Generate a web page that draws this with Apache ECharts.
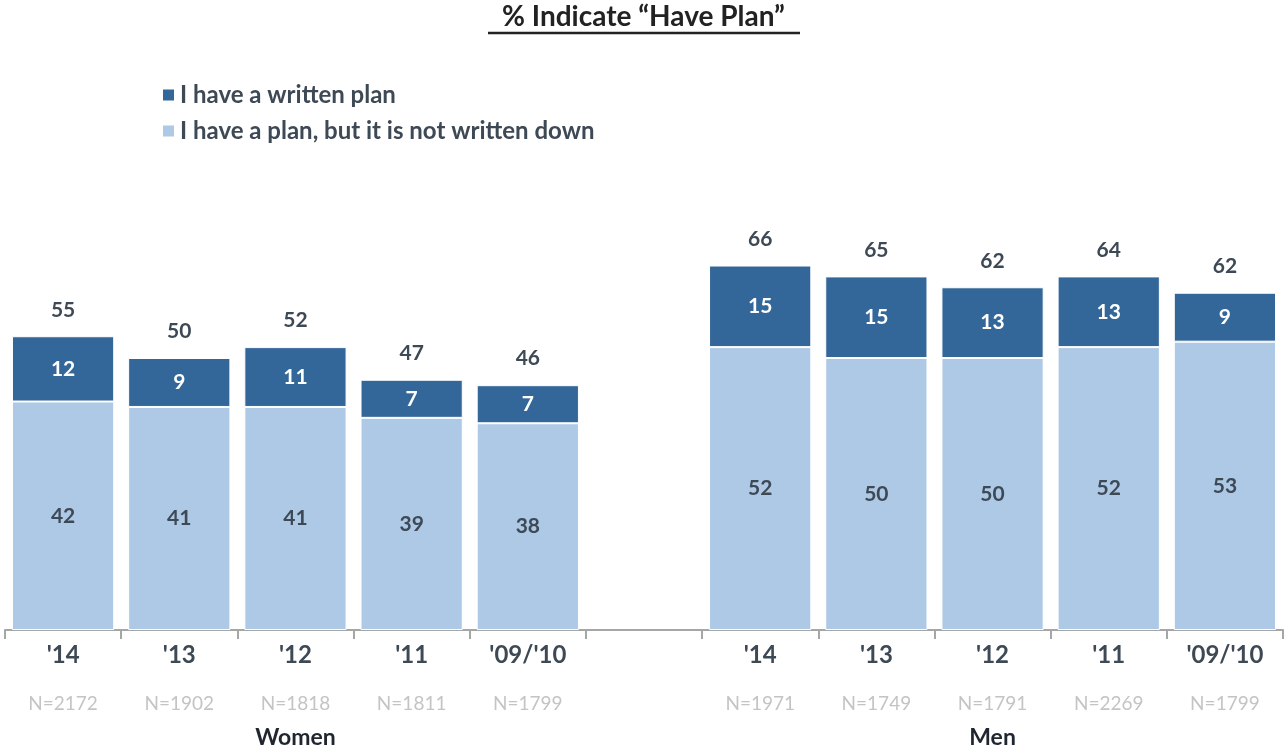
<!DOCTYPE html>
<html>
<head>
<meta charset="utf-8">
<script src="https://cdn.jsdelivr.net/npm/echarts@6/dist/echarts.min.js"></script>
<style>html,body{margin:0;padding:0;background:#fff}#c{width:1287px;height:751px}</style>
</head>
<body>
<div id="c"></div>
<script>
const years = ["'14","'13","'12","'11","'09/'10","","'14","'13","'12","'11","'09/'10"];
const sampleSizes = ["N=2172","N=1902","N=1818","N=1811","N=1799","","N=1971","N=1749","N=1791","N=2269","N=1799"];
const groups = ["","","Women","","","","","","Men","",""];
const notWritten = [42,41,41,39,38,'-',52,50,50,52,53];
const written = [12,9,11,7,7,'-',15,15,13,13,9];
const totals = [55,50,52,47,46,'',66,65,62,64,62];
const seriesNames = ['I have a written plan','I have a plan, but it is not written down'];

const FONT = 'Lato';
const DARK = '#336699';
const LIGHT = '#adc9e5';
const TXT = '#3e4956';

const chart = echarts.init(document.getElementById('c'));
chart.setOption({
  animation: false,
  textStyle: {fontFamily: FONT},
  graphic: [
    {type:'text', left:'center', top:3, style:{text:'% Indicate \u201cHave Plan\u201d', font:'bold 28px ' + FONT, fill:'#222'}},
    {type:'line', shape:{x1:488, y1:33, x2:800, y2:33}, style:{stroke:'#222', lineWidth:2.5}}
  ],
  legend: {
    orient:'vertical', left:156, top:78, itemWidth:13, itemHeight:13, itemGap:12,
    icon:'rect',
    data: seriesNames,
    textStyle:{fontFamily:FONT, fontWeight:'bold', fontSize:24, color:TXT}
  },
  grid: {left:5, right:4, top:86, bottom:121},
  xAxis: {
    type:'category', data: years.map((y,i)=>i),
    axisLine:{lineStyle:{color:'#a6a6a6', width:2}},
    axisTick:{show:true, length:9, lineStyle:{color:'#a6a6a6', width:2}},
    axisLabel:{
      interval:0, margin:7,
      formatter:(v)=>{const i=+v; return '{a|'+(years[i]||' ')+'}\n{s| }\n{b|'+(sampleSizes[i]||' ')+'}\n{c|'+(groups[i]||' ')+'}';},
      rich:{
        a:{fontFamily:FONT, fontWeight:'bold', fontSize:24, color:TXT, lineHeight:36},
        s:{fontSize:1, lineHeight:13},
        b:{fontFamily:FONT, fontSize:19, color:'#c4c4c4', lineHeight:36},
        c:{fontFamily:FONT, fontWeight:'bold', fontSize:23, color:'#1f2630', lineHeight:32}
      }
    }
  },
  yAxis: {type:'value', min:0, max:100, show:false, splitLine:{show:false}},
  series: [
    {
      name: seriesNames[1], type:'bar', stack:'s', data: notWritten, barWidth:'88%',
      itemStyle:{color:LIGHT, borderColor:'#fff', borderWidth:1},
      label:{show:true, position:'inside', fontFamily:FONT, fontWeight:'bold', fontSize:21, color:TXT}
    },
    {
      name: seriesNames[0], type:'bar', stack:'s', data: written, barWidth:'88%',
      itemStyle:{color:DARK, borderColor:'#fff', borderWidth:1},
      label:{show:true, position:'inside', fontFamily:FONT, fontWeight:'bold', fontSize:21, color:'#fff'}
    },
    {
      name:'total', type:'bar', stack:'s', data: totals.map(t=> t===''?'-':0), barWidth:'88%',
      itemStyle:{color:'rgba(0,0,0,0)'},
      label:{show:true, position:'top', distance:16, formatter:(p)=>totals[p.dataIndex], fontFamily:FONT, fontWeight:'bold', fontSize:21, color:TXT}
    }
  ]
});
</script>
</body>
</html>
